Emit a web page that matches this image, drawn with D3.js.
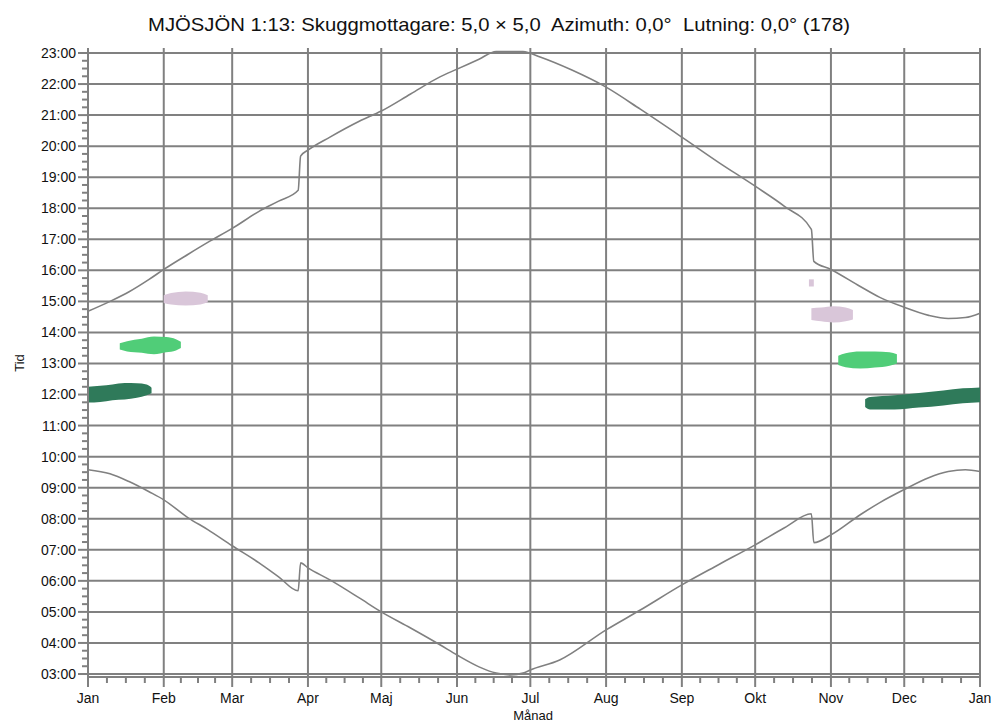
<!DOCTYPE html>
<html lang="sv">
<head>
<meta charset="UTF-8">
<title>MJÖSJÖN 1:13 skuggdiagram</title>
<script src="https://d3js.org/d3.v7.min.js"></script>
<style>
    body { margin: 0; background: #fff; }
    svg { display: block; font-family: "Liberation Sans", Arial, sans-serif; }
    .tick-label { font-size: 14px; fill: #111; }
    .title { white-space: pre; }
</style>
</head>
<body>
<svg width="991" height="723"></svg>
<script>
// day of year (0 = 1 Jan) and time in decimal hours
const sunsetDay  = [0, 9, 17, 25, 31, 41, 49, 59, 70, 78, 86, 87, 90, 99, 111, 120, 132, 144, 151, 160, 167, 178, 185, 198, 212, 226, 243, 258, 273, 285, 296, 297, 304, 316, 324, 334, 344, 352, 359, 365];
const sunsetHour = [14.68, 15.0, 15.32, 15.71, 16.03, 16.52, 16.9, 17.35, 17.9, 18.23, 18.58, 19.68, 19.87, 20.29, 20.8, 21.13, 21.68, 22.23, 22.48, 22.8, 23.05, 23.05, 22.87, 22.45, 21.9, 21.19, 20.29, 19.48, 18.71, 18.06, 17.32, 16.29, 16.03, 15.48, 15.13, 14.81, 14.55, 14.45, 14.48, 14.62];

const sunriseDay  = [0, 9, 17, 25, 31, 41, 49, 59, 70, 78, 86, 87, 90, 99, 111, 120, 132, 144, 151, 160, 167, 173, 178, 181, 193, 212, 226, 243, 258, 273, 285, 296, 297, 304, 316, 324, 334, 344, 352, 359, 365];
const sunriseHour = [9.58, 9.45, 9.19, 8.87, 8.61, 8.03, 7.65, 7.13, 6.58, 6.13, 5.68, 6.58, 6.42, 6.03, 5.45, 5.0, 4.48, 3.94, 3.61, 3.23, 3.03, 2.97, 3.03, 3.13, 3.45, 4.42, 5.06, 5.87, 6.52, 7.16, 7.71, 8.16, 7.23, 7.48, 8.13, 8.52, 8.94, 9.32, 9.52, 9.58, 9.52];

// shadow patches: day, from hour, to hour
const darkJanDay  = [0, 5, 10, 15, 20, 24, 26];
const darkJanLo   = [11.74, 11.76, 11.82, 11.84, 11.9, 11.98, 12.04];
const darkJanHi   = [12.25, 12.28, 12.32, 12.37, 12.36, 12.32, 12.22];

const lightJanDay = [13, 16, 22, 27, 32, 36, 38];
const lightJanLo  = [13.45, 13.39, 13.35, 13.3, 13.36, 13.42, 13.5];
const lightJanHi  = [13.65, 13.72, 13.8, 13.87, 13.85, 13.78, 13.7];

const pinkFebDay  = [31.5, 34, 40, 46, 49];
const pinkFebLo   = [14.95, 14.9, 14.87, 14.9, 14.97];
const pinkFebHi   = [15.2, 15.27, 15.32, 15.28, 15.2];

const pinkOctDay  = [295.8, 297];
const pinkOctLo   = [15.48, 15.48];
const pinkOctHi   = [15.71, 15.71];

const pinkNovDay  = [296.3, 300, 305, 310, 313.4];
const pinkNovLo   = [14.4, 14.36, 14.32, 14.36, 14.42];
const pinkNovHi   = [14.78, 14.8, 14.84, 14.8, 14.72];

const lightNovDay = [307.3, 310, 316, 322, 328, 331.5];
const lightNovLo  = [12.95, 12.88, 12.84, 12.87, 12.93, 13.0];
const lightNovHi  = [13.25, 13.33, 13.39, 13.39, 13.36, 13.3];

const darkNovDay  = [318.4, 320, 330, 340, 350, 358, 365];
const darkNovLo   = [11.6, 11.52, 11.52, 11.58, 11.65, 11.72, 11.75];
const darkNovHi   = [11.85, 11.92, 11.98, 12.05, 12.13, 12.2, 12.23];

const monthLabels = ["Jan", "Feb", "Mar", "Apr", "Maj", "Jun", "Jul", "Aug", "Sep", "Okt", "Nov", "Dec", "Jan"];
const hourTicks = d3.range(3, 24);

const titleText = "MJÖSJÖN 1:13: Skuggmottagare: 5,0 × 5,0  Azimuth: 0,0°  Lutning: 0,0° (178)";

const dayToDate = d => new Date(2021, 0, 1 + d);
const fmtHour = h => (h < 10 ? "0" : "") + h + ":00";

const svg = d3.select("svg");
const grey = "#808080";

const x = d3.scaleTime()
    .domain([new Date(2021, 0, 1), new Date(2022, 0, 1)])
    .range([88, 980]);

const y = d3.scaleLinear()
    .domain([3, 23])
    .range([674, 53]);

const axisY = 677, topY = 48;
const monthDates = d3.range(13).map(i => new Date(2021, i, 1));

// grid
const grid = svg.append("g").attr("stroke", grey).attr("stroke-width", 2);
grid.selectAll(".hgrid").data(hourTicks).join("line")
    .attr("x1", x.range()[0]).attr("x2", x.range()[1])
    .attr("y1", d => y(d)).attr("y2", d => y(d));
grid.selectAll(".vgrid").data(monthDates).join("line")
    .attr("x1", d => x(d)).attr("x2", d => x(d))
    .attr("y1", topY).attr("y2", axisY);

// shadow patches
const patches = [
    {day: darkJanDay, lo: darkJanLo, hi: darkJanHi, color: "#2f7a5a"},
    {day: lightJanDay, lo: lightJanLo, hi: lightJanHi, color: "#50cd78"},
    {day: pinkFebDay, lo: pinkFebLo, hi: pinkFebHi, color: "#d9c6d9"},
    {day: pinkOctDay, lo: pinkOctLo, hi: pinkOctHi, color: "#d9c6d9"},
    {day: pinkNovDay, lo: pinkNovLo, hi: pinkNovHi, color: "#d9c6d9"},
    {day: lightNovDay, lo: lightNovLo, hi: lightNovHi, color: "#50cd78"},
    {day: darkNovDay, lo: darkNovLo, hi: darkNovHi, color: "#2f7a5a"}
];

const area = d3.area()
    .curve(d3.curveMonotoneX)
    .x(d => x(dayToDate(d.day)))
    .y0(d => y(d.lo))
    .y1(d => y(d.hi));

svg.append("g").selectAll("path").data(patches).join("path")
    .attr("fill", p => p.color)
    .attr("d", p => area(p.day.map((d, i) => ({day: d, lo: p.lo[i], hi: p.hi[i]}))));

// sunrise / sunset lines
const line = d3.line()
    .curve(d3.curveMonotoneX)
    .x(d => x(dayToDate(d[0])))
    .y(d => y(d[1]));

const curves = [
    d3.zip(sunsetDay, sunsetHour),
    d3.zip(sunriseDay, sunriseHour)
];
svg.append("g").selectAll("path").data(curves).join("path")
    .attr("fill", "none")
    .attr("stroke", grey)
    .attr("stroke-width", 1.6)
    .attr("stroke-linejoin", "round")
    .attr("d", line);

// axes
const ax = svg.append("g").attr("stroke", grey).attr("stroke-width", 2);
ax.append("line").attr("x1", 88).attr("x2", 88).attr("y1", topY).attr("y2", axisY + 1);
ax.append("line").attr("x1", 88).attr("x2", 981).attr("y1", axisY).attr("y2", axisY);

// y ticks
const minorHours = d3.range(3, 23.001, 0.25).filter(h => h % 1 !== 0);
ax.selectAll(".ymin").data(minorHours).join("line")
    .attr("x1", 82).attr("x2", 88)
    .attr("y1", d => y(d)).attr("y2", d => y(d));
ax.selectAll(".ymaj").data(hourTicks).join("line")
    .attr("x1", 78).attr("x2", 88)
    .attr("y1", d => y(d)).attr("y2", d => y(d));

svg.append("g").selectAll("text").data(hourTicks).join("text")
    .attr("class", "tick-label")
    .attr("x", 76)
    .attr("y", d => y(d))
    .attr("dy", "0.35em")
    .attr("text-anchor", "end")
    .text(fmtHour);

// x ticks: months plus quarter-month minor ticks
const minorDates = [];
for (let i = 0; i < 12; i++) {
    const a = monthDates[i].getTime(), b = monthDates[i + 1].getTime();
    for (let k = 1; k < 4; k++) minorDates.push(new Date(a + k * (b - a) / 4));
}
ax.selectAll(".xmin").data(minorDates).join("line")
    .attr("x1", d => x(d)).attr("x2", d => x(d))
    .attr("y1", axisY).attr("y2", axisY + 6);
ax.selectAll(".xmaj").data(monthDates).join("line")
    .attr("x1", d => x(d)).attr("x2", d => x(d))
    .attr("y1", axisY).attr("y2", axisY + 10);

svg.append("g").selectAll("text").data(monthDates).join("text")
    .attr("class", "tick-label")
    .attr("x", d => x(d))
    .attr("y", 703)
    .attr("text-anchor", "middle")
    .text((d, i) => monthLabels[i]);

// titles
svg.append("text")
    .attr("class", "title")
    .attr("x", 499).attr("y", 31)
    .attr("text-anchor", "middle")
    .attr("font-size", 18.5)
    .attr("fill", "#111")
    .attr("textLength", 702)
    .attr("lengthAdjust", "spacingAndGlyphs")
    .text(titleText);

svg.append("text")
    .attr("x", 533).attr("y", 720)
    .attr("text-anchor", "middle")
    .attr("font-size", 13)
    .attr("fill", "#111")
    .text("Månad");

svg.append("text")
    .attr("transform", "translate(24,363) rotate(-90)")
    .attr("text-anchor", "middle")
    .attr("font-size", 13)
    .attr("fill", "#111")
    .text("Tid");
</script>
</body>
</html>
